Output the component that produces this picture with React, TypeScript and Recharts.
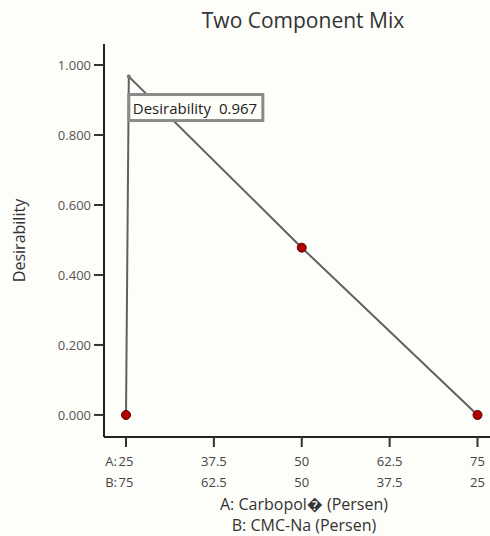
import React from 'react';
import {
  ComposedChart,
  Line,
  Scatter,
  XAxis,
  YAxis,
  ReferenceDot,
  Label,
} from 'recharts';

// desirability trace along the mix, design points, axis ticks
const curveA = [25, 25.4, 50, 75];
const curveDesirability = [0, 0.967, 0.478, 0];
const designA = [25, 50, 75];
const designDesirability = [0, 0.478, 0];
const tickA = [25, 37.5, 50, 62.5, 75];
const tickB = [75, 62.5, 50, 37.5, 25];
const yTicks = [0, 0.2, 0.4, 0.6, 0.8, 1.0];
const peak = { a: 25.4, d: 0.967 };

const curveData = curveA.map((a, i) => ({ a, d: curveDesirability[i] }));
const designData = designA.map((a, i) => ({ a, d: designDesirability[i] }));

const FONT = '"Open Sans", "DejaVu Sans", sans-serif';

const MixTick = (props: any) => {
  const { x, y, payload, index } = props;
  const i = tickA.indexOf(payload.value);
  const first = index === 0 || i === 0;
  return (
    <g transform={`translate(${x},${y})`} fontFamily={FONT} fontSize={13}>
      <text x={0} y={17} textAnchor="middle" fill="#444">{tickA[i]}</text>
      <text x={0} y={38} textAnchor="middle" fill="#444">{tickB[i]}</text>
      {first && (
        <>
          <text x={-9} y={17} textAnchor="end" fill="#444">A:</text>
          <text x={-9} y={38} textAnchor="end" fill="#444">B:</text>
        </>
      )}
    </g>
  );
};

const XTitle = (props: any) => {
  const { viewBox } = props;
  const cx = viewBox.x + viewBox.width / 2 + 2;
  return (
    <g fontFamily={FONT} fontSize={16}>
      <text x={cx} y={viewBox.y + 73} textAnchor="middle" fill="#333">A: Carbopol� (Persen)</text>
      <text x={cx} y={viewBox.y + 94} textAnchor="middle" fill="#333">B: CMC-Na (Persen)</text>
    </g>
  );
};

const YTitle = (props: any) => {
  const { viewBox } = props;
  const cy = viewBox.y + viewBox.height / 2;
  return (
    <text
      x={25}
      y={cy}
      transform={`rotate(-90 25 ${cy})`}
      textAnchor="middle"
      fontFamily={FONT}
      fontSize={16}
      fill="#333"
    >
      Desirability
    </text>
  );
};

const DesignDot = (props: any) => {
  const { cx, cy } = props;
  return <circle cx={cx} cy={cy} r={4.5} fill="#b00000" stroke="#5a0000" strokeWidth={1} />;
};

const PeakFlag = (props: any) => {
  const { cx, cy } = props;
  return (
    <g>
      <circle cx={cx} cy={cy} r={2} fill="#777" />
      <rect x={cx} y={cy + 18} width={134} height={26} fill="#fdfdf9" stroke="#8a8a8a" strokeWidth={3} />
      <text x={cx + 4} y={cy + 37} fontFamily={FONT} fontSize={15} fill="#222">
        <tspan>Desirability</tspan>
        <tspan dx={8}>0.967</tspan>
      </text>
    </g>
  );
};

export default function App() {
  return (
    <div
      style={{
        position: 'fixed',
        left: 0,
        top: 0,
        width: 490,
        height: 536,
        background: '#fdfdf9',
        overflow: 'hidden',
      }}
    >
      <svg width={490} height={40} style={{ position: 'absolute', left: 0, top: 0 }}>
        <text x={303} y={28} textAnchor="middle" fontFamily={FONT} fontSize={21} fill="#333">
          Two Component Mix
        </text>
      </svg>
      <ComposedChart
        width={500}
        height={536}
        margin={{ top: 44, right: 0, bottom: 0, left: 0 }}
        style={{ position: 'absolute', left: 0, top: 0 }}
      >
        <XAxis
          xAxisId="main"
          dataKey="a"
          type="number"
          domain={[21.87, 78.2]}
          ticks={tickA}
          allowDataOverflow
          height={99}
          tickSize={10}
          tickLine={{ stroke: '#333', strokeWidth: 2 }}
          axisLine={{ stroke: '#222', strokeWidth: 2 }}
          tick={<MixTick />}
          interval={0}
        >
          <Label content={<XTitle />} />
        </XAxis>
        <XAxis
          xAxisId="top"
          orientation="top"
          dataKey="a"
          type="number"
          domain={[21.87, 78.2]}
          height={0}
          tick={false}
          tickLine={false}
          axisLine={{ stroke: '#333', strokeWidth: 2 }}
        />
        <YAxis
          dataKey="d"
          type="number"
          domain={[-0.063, 1.06]}
          ticks={yTicks}
          allowDataOverflow
          width={104}
          tickSize={10}
          tickMargin={3}
          tickFormatter={(v: number) => v.toFixed(3)}
          tick={{ fontFamily: FONT, fontSize: 13, fill: '#555' }}
          tickLine={{ stroke: '#333', strokeWidth: 2 }}
          axisLine={{ stroke: '#222', strokeWidth: 2 }}
        >
          <Label content={<YTitle />} />
        </YAxis>
        <Line
          xAxisId="main"
          data={curveData}
          dataKey="d"
          type="linear"
          stroke="#606060"
          strokeWidth={2}
          dot={false}
          activeDot={false}
          isAnimationActive={false}
        />
        <Scatter
          xAxisId="main"
          data={designData}
          dataKey="d"
          shape={<DesignDot />}
          isAnimationActive={false}
        />
        <ReferenceDot
          xAxisId="main"
          x={peak.a}
          y={peak.d}
          shape={<PeakFlag />}
        />
      </ComposedChart>
    </div>
  );
}
